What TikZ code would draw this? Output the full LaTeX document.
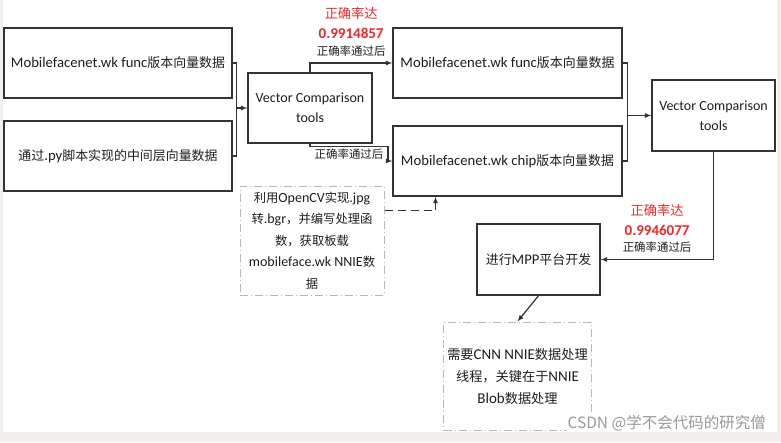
\documentclass[tikz,border=0pt]{standalone}
\usepackage{fontspec}
\setmainfont{Carlito}
\newfontfamily\cjk{Noto Sans CJK SC}[Scale=0.88]
\newfontfamily\wmfont{Noto Sans CJK SC}
\newcommand{\zh}[1]{{\cjk #1}}
\usetikzlibrary{arrows}
\usetikzlibrary{positioning}
\definecolor{edge}{HTML}{333333}
\definecolor{ink}{HTML}{1E1E1E}
\definecolor{notegray}{HTML}{B8B8B8}
\definecolor{accred}{HTML}{F02828}
\definecolor{pagebg}{HTML}{F3F0EB}
\tikzstyle{block} = [rectangle, draw=edge, line width=1.4pt, text=ink, align=center, inner sep=2pt, font=\fontsize{14.7}{20}\selectfont]
\tikzstyle{tool} = [block, font=\fontsize{14}{20}\selectfont]
\tikzstyle{note} = [rectangle, draw=notegray, line width=1pt, dash pattern=on 8pt off 3pt on 1pt off 3pt, text=ink, align=center, font=\fontsize{14}{21.5}\selectfont]
\tikzstyle{link} = [draw=edge, line width=1.2pt]
\tikzstyle{passlbl} = [text=ink, inner sep=2pt, font=\fontsize{13}{15}\selectfont]
\tikzstyle{acc} = [text=accred, inner sep=1pt, align=center, font=\fontsize{15}{20}\selectfont\bfseries]

\begin{document}
\begin{tikzpicture}[x=1pt, y=-1pt, >=latex]
\useasboundingbox (0,0) rectangle (781,442);
\fill[pagebg] (0,0) rectangle (781,442);
\fill[white] (3,0) rectangle (777,432);

% first stage
\node (funcA) [block, minimum width=228pt, minimum height=70pt] at (118,63) {Mobilefacenet.wk func\zh{版本向量数据}};
\node (pyB) [block, minimum width=228pt, minimum height=70pt] at (118,156) {\zh{通过}.py\zh{脚本实现的中间层向量数据}};
\node (vcA) [tool, minimum width=124pt, minimum height=70pt] at (310,108) {Vector Comparison\\tools};

% second stage
\node (funcC) [block, minimum width=229pt, minimum height=70pt] at (507.5,63) {Mobilefacenet.wk func\zh{版本向量数据}};
\node (chipD) [block, minimum width=229pt, minimum height=70pt] at (507.5,161) {Mobilefacenet.wk chip\zh{版本向量数据}};
\node (vcB) [tool, minimum width=123pt, minimum height=71pt] at (713.5,115.5) {Vector Comparison\\tools};
\node (mpp) [block, minimum width=123pt, minimum height=71pt] at (538.5,259.5) {\zh{进行}MPP\zh{平台开发}};

% notes
\node (noteL) [note, minimum width=144pt, minimum height=109pt] at (312,240.5) {\zh{利用}OpenCV\zh{实现}.jpg\\\zh{转}.bgr\zh{，并编写处理函}\\\zh{数，获取板载}\\mobileface.wk NNIE\zh{数}\\\zh{据}};
\node (noteB) [note, minimum width=145pt, minimum height=108pt, font=\fontsize{15}{22}\selectfont] at (517.5,376) {\zh{需要}CNN NNIE\zh{数据处理}\\\zh{线程，关键在于}NNIE\\Blob\zh{数据处理}};

% connectors
\draw[link] (funcA.east) -- ++(4,0) coordinate (jA) |- (pyB.east);
\draw[link,->] (jA |- vcA.west) -- (vcA.west);
\draw[link,->] (vcA.north) |- node[pos=0.75, above=4pt, passlbl] (passA) {\zh{正确率通过后}} (funcC.west);
\node (accA) [acc, above=3pt of passA] {{\mdseries\cjk 正确率达}\\0.9914857};
\draw[link,->] (vcA.south) -- ++(0,3) -- node[midway, below, passlbl] {\zh{正确率通过后}} ++(78,0) |- (chipD.west);
\draw[link] (funcC.east) -- ++(4.5,0) coordinate (jC) |- (chipD.east);
\draw[link,->] (jC |- vcB.west) -- (vcB.west);
\draw[link,->] (vcB.south) |- node[pos=0.75, above=4pt, passlbl] (passB) {\zh{正确率通过后}} (mpp.east);
\node (accB) [acc, above=3pt of passB] {{\mdseries\cjk 正确率达}\\0.9946077};
\draw[link,->] (mpp.south) -- (noteB.north);
\draw[link,->, dash pattern=on 8pt off 5pt] ([yshift=30pt]noteL.east) -| ([xshift=-72pt]chipD.south);

% page edge and mark
\fill[pagebg] (0,432) rectangle (781,442);
\fill[pagebg] (777,0) rectangle (781,442);
\node (mark) [fill=white, inner sep=1pt, text=black!40, font=\wmfont\fontsize{15.5}{17}\selectfont, anchor=south east] at (767,432) {CSDN @学不会代码的研究僧};
\end{tikzpicture}
\end{document}
